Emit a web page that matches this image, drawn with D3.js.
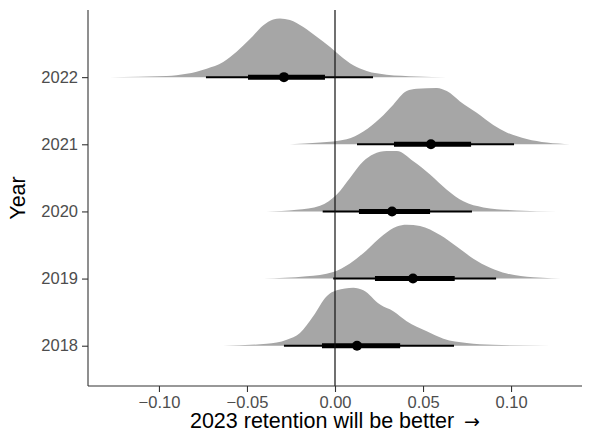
<!DOCTYPE html>
<html>
<head>
<meta charset="utf-8">
<script src="https://cdn.jsdelivr.net/npm/d3@7"></script>
<style>
  body { margin: 0; background: #fff; }
  text { font-family: "Liberation Sans", Arial, sans-serif; }
</style>
</head>
<body>
<svg id="chart" width="589" height="438"></svg>
<script>
// years on the y axis
const years = [2018, 2019, 2020, 2021, 2022];

// point + intervals (median, 66% and 95%)
const medians = [0.0125, 0.0443, 0.0324, 0.0545, -0.029];
const lo66 = [-0.0074, 0.0227, 0.0136, 0.0335, -0.0494];
const hi66 = [0.037, 0.068, 0.054, 0.0773, -0.0057];
const lo95 = [-0.029, -0.001, -0.007, 0.0125, -0.0733];
const hi95 = [0.0676, 0.0915, 0.0778, 0.1017, 0.0216];

// slab outlines: x value, relative density (tallest = 1)
const slabX2018 = [-0.0635, -0.0388, -0.0274, -0.0199, -0.0123, -0.0047, 0.001, 0.0104, 0.0161, 0.0256, 0.0331, 0.0407, 0.0521, 0.0616, 0.0748, 0.0899, 0.1222];
const slabD2018 = [0, 0.033, 0.1, 0.21, 0.49, 0.82, 0.917, 0.96, 0.917, 0.68, 0.57, 0.405, 0.24, 0.117, 0.045, 0.017, 0];
const slabX2019 = [-0.0407, -0.0161, -0.001, 0.0085, 0.018, 0.0274, 0.0351, 0.0407, 0.0483, 0.0597, 0.0691, 0.0786, 0.0881, 0.0976, 0.1127, 0.1335];
const slabD2019 = [0, 0.038, 0.11, 0.25, 0.47, 0.72, 0.86, 0.89, 0.87, 0.72, 0.53, 0.33, 0.18, 0.083, 0.022, 0];
const slabX2020 = [-0.0388, -0.0218, -0.0085, 0.001, 0.0085, 0.0161, 0.0218, 0.0294, 0.0351, 0.0445, 0.054, 0.0635, 0.0729, 0.0843, 0.1032, 0.126];
const slabD2020 = [0, 0.028, 0.095, 0.28, 0.555, 0.83, 0.945, 1.0, 1.0, 0.83, 0.61, 0.36, 0.167, 0.067, 0.017, 0];
const slabX2021 = [-0.0256, -0.0085, 0.0066, 0.0161, 0.0256, 0.0331, 0.0407, 0.0464, 0.0578, 0.0635, 0.071, 0.0805, 0.0899, 0.0975, 0.1089, 0.1203, 0.1335];
const slabD2021 = [0, 0.028, 0.083, 0.21, 0.43, 0.655, 0.88, 0.917, 0.933, 0.88, 0.71, 0.52, 0.32, 0.195, 0.088, 0.028, 0];
const slabX2022 = [-0.128, -0.0956, -0.0843, -0.0729, -0.0635, -0.0559, -0.0483, -0.0407, -0.0351, -0.0313, -0.0256, -0.018, -0.0104, -0.0028, 0.0028, 0.0104, 0.018, 0.0293, 0.0464, 0.0635];
const slabD2022 = [0, 0.017, 0.055, 0.14, 0.25, 0.42, 0.63, 0.86, 0.955, 0.97, 0.945, 0.83, 0.67, 0.5, 0.36, 0.195, 0.1, 0.04, 0.012, 0];

const xTicks = [-0.10, -0.05, 0.00, 0.05, 0.10];
const xTitle = "2023 retention will be better";
const xArrow = "\u2192";
const yTitle = "Year";

const slabXs = [slabX2018, slabX2019, slabX2020, slabX2021, slabX2022];
const slabDs = [slabD2018, slabD2019, slabD2020, slabD2021, slabD2022];

const rows = years.map((yr, i) => ({
    year: yr,
    median: medians[i],
    lo66: lo66[i], hi66: hi66[i],
    lo95: lo95[i], hi95: hi95[i],
    slab: slabXs[i].map((x, j) => ({ x: x, d: slabDs[i][j] }))
}));

const panel = { left: 88, right: 582, top: 10, bottom: 386 };
const SLAB_SCALE = 0.9;

const svg = d3.select("#chart");

const x = d3.scaleLinear().domain([-0.1403, 0.1403]).range([panel.left, panel.right]);
const y = d3.scaleLinear().domain([2017.4, 2023.0]).range([panel.bottom, panel.top]);

const area = d3.area()
    .x(p => x(p.x))
    .y0(0)
    .y1(p => y(SLAB_SCALE * p.d) - y(0))
    .curve(d3.curveMonotoneX);

const rowGs = svg.append("g").selectAll("g")
    .data(rows)
    .enter()
    .append("g")
    .attr("transform", d => "translate(0," + y(d.year) + ")");

rowGs.append("path")
    .attr("d", d => area(d.slab))
    .attr("fill", "#a6a6a6");

// zero reference line
svg.append("line")
    .attr("x1", x(0)).attr("x2", x(0))
    .attr("y1", panel.top).attr("y2", panel.bottom)
    .attr("stroke", "#111").attr("stroke-width", 1.2);

rowGs.append("line")
    .attr("x1", d => x(d.lo95)).attr("x2", d => x(d.hi95))
    .attr("stroke", "#000").attr("stroke-width", 2);
rowGs.append("line")
    .attr("x1", d => x(d.lo66)).attr("x2", d => x(d.hi66))
    .attr("stroke", "#000").attr("stroke-width", 5);
rowGs.append("circle")
    .attr("cx", d => x(d.median)).attr("cy", 0).attr("r", 5)
    .attr("fill", "#000");

// axes
const xAxis = svg.append("g")
    .attr("transform", "translate(0," + panel.bottom + ")")
    .call(d3.axisBottom(x).tickValues(xTicks).tickSize(6).tickPadding(4)
        .tickFormat(v => d3.format(".2f")(v).replace("-", "\u2212")));
const yAxis = svg.append("g")
    .attr("transform", "translate(" + panel.left + ",0)")
    .call(d3.axisLeft(y).tickValues(years).tickSize(6).tickPadding(4)
        .tickFormat(d3.format("d")));

[xAxis, yAxis].forEach(ax => {
    ax.select(".domain").remove();
    ax.selectAll(".tick line").attr("stroke", "#333").attr("stroke-width", 1.1);
    ax.selectAll(".tick text").attr("fill", "#4d4d4d").style("font-size", "16.5px");
});

svg.append("line")
    .attr("x1", panel.left).attr("x2", panel.right)
    .attr("y1", panel.bottom).attr("y2", panel.bottom)
    .attr("stroke", "#333").attr("stroke-width", 1.1);
svg.append("line")
    .attr("x1", panel.left).attr("x2", panel.left)
    .attr("y1", panel.top).attr("y2", panel.bottom)
    .attr("stroke", "#333").attr("stroke-width", 1.1);

const xt = svg.append("text")
    .attr("x", (panel.left + panel.right) / 2)
    .attr("y", 428)
    .attr("text-anchor", "middle")
    .attr("fill", "#000")
    .style("font-size", "21.5px");
xt.append("tspan").text(xTitle);
xt.append("tspan")
    .attr("dx", 10)
    .style("font-family", "'DejaVu Sans', sans-serif")
    .style("font-size", "19px")
    .text(xArrow);

svg.append("text")
    .attr("transform", "translate(25," + ((panel.top + panel.bottom) / 2) + ") rotate(-90)")
    .attr("text-anchor", "middle")
    .attr("fill", "#000")
    .style("font-size", "21.5px")
    .text(yTitle);
</script>
</body>
</html>
